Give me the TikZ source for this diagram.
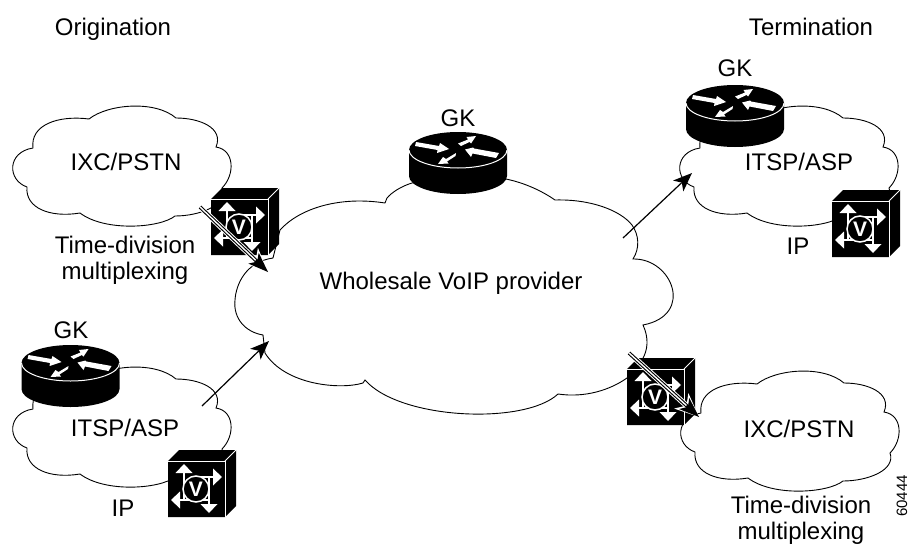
\documentclass[tikz,border=0pt]{standalone}
\usepackage{fontspec}
\setmainfont{Liberation Sans}
\usetikzlibrary{arrows.meta}
\newcommand{\smallcloudpath}{(33,148) .. controls (30,125) and (58,115) .. (89,119)
  .. controls (108,104) and (155,100) .. (176,118)
  .. controls (200,118) and (224,128) .. (216,147)
  .. controls (235,150) and (235,175) .. (222,188)
  .. controls (228,205) and (200,216) .. (175,216)
  .. controls (160,228) and (105,232) .. (80,213)
  .. controls (50,218) and (25,208) .. (27,187)
  .. controls (7,180) and (7,152) .. (33,148) -- cycle}
\tikzset{
  x=1pt,y=-1pt,
  lbl/.style={font=\fontsize{24}{26}\selectfont,inner sep=0pt,align=center,text=black},
  cloudline/.style={draw=black,fill=white,line width=0.9pt},
  whiteedge/.style={draw=white,line width=1pt},
  wline/.style={draw=white,line width=1.6pt},
  wtip/.style={draw=none,fill=white},
  plainarrow/.style={draw=black,line width=1.2pt,-{Stealth[length=19pt,width=15pt,inset=5pt,line width=0pt]}},
  halotip/.style={draw=white,line width=5.6pt,-{Stealth[length=24pt,width=21pt,inset=7pt,line width=0pt]}},
  darkline/.style={draw=black,line width=3.6pt,-{Stealth[length=20pt,width=15pt,inset=5pt,line width=0pt]}},
  coreline/.style={draw=white,line width=1.4pt,shorten >=17pt},
  voicebox/.pic={
    \fill[black] (0,0) -- (11,-11) -- (68,-11) -- (68,45) -- (57,56) -- (0,56) -- cycle;
    \draw[whiteedge] (0,0) -- (57,0) -- (57,56);
    \draw[whiteedge] (57,0) -- (68,-11);
    \draw[wline] (16,11) -- (16,39) -- (12,39);
    \draw[wline] (16,39) -- (41,39) -- (41,44);
    \draw[wline] (28,16) -- (46,16);
    \draw[wline] (41,16) -- (41,39);
    \fill[wtip] (16,3) -- (24.5,12) -- (7.5,12) -- cycle;
    \fill[wtip] (54,16) -- (45,7.5) -- (45,24.5) -- cycle;
    \fill[wtip] (41,52) -- (32.5,43) -- (49.5,43) -- cycle;
    \fill[wtip] (3,39) -- (12,30.5) -- (12,47.5) -- cycle;
    \draw[draw=white,fill=black,line width=1.5pt] (28,28) circle[radius=13];
    \node[font=\fontsize{21}{21}\selectfont\bfseries,text=white,inner sep=0pt] at (28,28.5) {V};
  },
  routerpic/.pic={
    \fill[black] (-49,0) -- (-49,26) arc[start angle=180,end angle=0,x radius=49,y radius=18] -- (49,0) arc[start angle=0,end angle=-180,x radius=49,y radius=18] -- cycle;
    \draw[whiteedge] (-49,0) arc[start angle=180,end angle=0,x radius=49,y radius=18];
    \fill[wtip] (-42,-8) -- (-19,-4) -- (-18,-7) -- (-9,-1) -- (-21,3) -- (-20.5,0) -- (-43,-4) -- cycle;
    \fill[wtip] (41,3) -- (16,-1.5) -- (15,-2.5) -- (7,-0.5) -- (13,7) -- (14.5,3.5) -- (38,8) -- cycle;
    \fill[wtip] (0,-6.5) -- (10,-10.5) -- (8.5,-13) -- (18,-14) -- (13,-6.5) -- (11.5,-8) -- (3,-4) -- cycle;
    \fill[wtip] (-2,3) -- (-12,9) -- (-15,7) -- (-20,14) -- (-9.5,13.5) -- (-11,11.5) -- (-2.5,6) -- cycle;
  }
}
\begin{document}
\begin{tikzpicture}
\path[use as bounding box,fill=white] (0,0) rectangle (910,546);

% small clouds
\begin{scope}[shift={(0,0)}]
  \draw[cloudline] \smallcloudpath;
\end{scope}
\begin{scope}[shift={(0,261)}]
  \draw[cloudline] \smallcloudpath;
\end{scope}
\begin{scope}[shift={(667,0)}]
  \draw[cloudline] \smallcloudpath;
\end{scope}
\begin{scope}[shift={(668,265)}]
  \draw[cloudline] \smallcloudpath;
\end{scope}

% large cloud
\draw[cloudline] (280,230) .. controls (300,208) and (340,196) .. (385,203)
  -- (387,198) .. controls (392,192) and (402,186) .. (412,183)
  -- (506,179) .. controls (525,183) and (542,191) .. (555,200)
  .. controls (590,199) and (620,210) .. (632,225)
  .. controls (639,235) and (640,248) .. (633,259)
  .. controls (672,258) and (695,315) .. (643,325)
  .. controls (649,338) and (648,350) .. (642,360)
  -- (627,378) .. controls (610,390) and (585,398) .. (558,394)
  .. controls (525,425) and (400,420) .. (365,380)
  -- (363,383) .. controls (340,390) and (285,385) .. (265,353)
  -- (263,335) .. controls (245,332) and (233,318) .. (235,300)
  .. controls (236,285) and (245,262) .. (273,258)
  -- (275,250) -- cycle;

% routers
\pic at (458,150) {routerpic};
\pic at (70.5,363) {routerpic};
\pic at (735,103) {routerpic};

% voice gateways
\pic at (211,199) {voicebox};
\pic at (168,461) {voicebox};
\pic at (832,201) {voicebox};
\pic at (627,369) {voicebox};

% connector ends
\coordinate (tdmA) at (200,207);
\coordinate (tdmAend) at (268,272);
\coordinate (ipA) at (202,406);
\coordinate (ipAend) at (269,341);
\coordinate (ipB) at (623,238);
\coordinate (ipBend) at (692,173);
\coordinate (tdmB) at (629,353);
\coordinate (tdmBend) at (699,417);

\draw[plainarrow] (ipA) -- (ipAend);
\draw[plainarrow] (ipB) -- (ipBend);

\draw[halotip] (tdmA) -- (tdmAend);
\draw[darkline] (tdmA) -- (tdmAend);
\draw[coreline] (tdmA) -- (tdmAend);

\draw[halotip] (tdmB) -- (tdmBend);
\draw[darkline] (tdmB) -- (tdmBend);
\draw[coreline] (tdmB) -- (tdmBend);

% labels
\node[lbl] (origin) at (113,29) {Origination};
\node[lbl] (term) at (811,27) {Termination};
\node[lbl] (gkc) at (458,118) {GK};
\node[lbl] (gkl) at (71,330) {GK};
\node[lbl] (gkr) at (735,68) {GK};
\node[lbl] (ixcl) at (126,162) {IXC/PSTN};
\node[lbl] (ixcr) at (799,429) {IXC/PSTN};
\node[lbl] (itspl) at (125,428) {ITSP/ASP};
\node[lbl] (itspr) at (799,162) {ITSP/ASP};
\node[lbl] (tdml) at (125,260) {Time-division\\multiplexing};
\node[lbl] (tdmr) at (801,520) {Time-division\\multiplexing};
\node[lbl] (ipl) at (123,508) {IP};
\node[lbl] (ipr) at (798,246) {IP};
\node[lbl] (whole) at (451,283) {Wholesale VoIP provider};
\node[lbl,font=\fontsize{15}{15}\selectfont,rotate=90] (fig) at (902,496) {60444};
\end{tikzpicture}
\end{document}
